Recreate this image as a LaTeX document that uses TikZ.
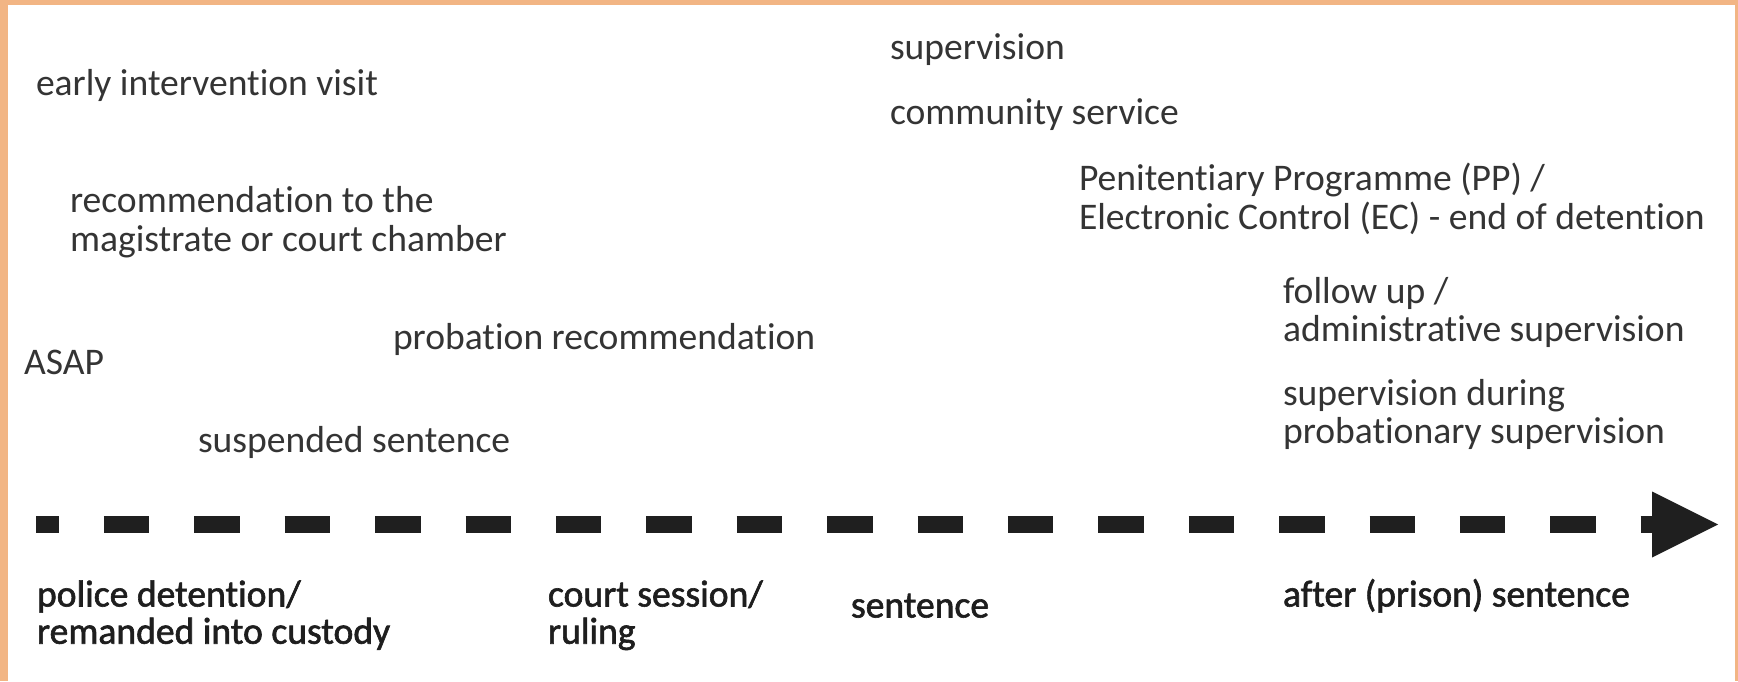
\documentclass[tikz,border=0pt]{standalone}
\usepackage{fontspec}
\setmainfont[Ligatures={NoCommon}]{Carlito}
\newfontfamily\stagefont[Ligatures={NoCommon},FakeBold=1.6]{Carlito}
\usetikzlibrary{positioning}
\definecolor{frame}{RGB}{242,181,132}
\definecolor{txt}{RGB}{52,52,52}
\definecolor{txtb}{RGB}{30,30,30}
\newcommand{\twol}[2]{\begin{tabular}[t]{@{}l@{}}#1\\#2\end{tabular}}
\tikzset{
  lbl/.style={anchor=base west, inner sep=0pt, outer sep=0pt, text=txt,
    font=\fontsize{37.6pt}{38.5pt}\selectfont},
  stage/.style={anchor=base west, inner sep=0pt, outer sep=0pt, text=txtb,
    font=\stagefont\fontsize{37.6pt}{37pt}\selectfont},
  timeline/.style={line width=17pt, draw=black!88, dash pattern=on 45.5pt off 44.9pt, dash phase=22.5pt},
  tiphead/.style={fill=black!88}
}
\begin{document}
\begin{tikzpicture}[x=1pt,y=1pt]
\useasboundingbox (0,0) rectangle (1738,681);
\fill[frame] (0,0) rectangle (1738,681);
\fill[white] (8,0) rectangle (1735,676);
% timeline
\coordinate (tstart) at (36,156.5);
\coordinate (tbase) at (1652,156.5);
\coordinate (ttip) at (1718,156.5);
\coordinate (ttop) at (1652,189.5);
\coordinate (tbot) at (1652,123.5);
\draw[timeline] (tstart) -- (tbase);
\fill[tiphead] (ttop) -- (ttip) -- (tbot) -- cycle;
% upper labels
\node[lbl] (sup) at (890,621) {supervision};
\node[lbl] (comm) at (890,556) {community service};
\node[lbl] (early) at (36,585.5) {early intervention visit};
\node[lbl] (pp) at (1079,490.5) {\twol{Penitentiary Programme (PP) /}{Electronic Control (EC) - end of detention}};
\node[lbl] (rec) at (70,468) {\twol{recommendation to the}{magistrate or court chamber}};
\node[lbl] (follow) at (1283,377.5) {\twol{follow up /}{administrative supervision}};
\node[lbl] (prob) at (393,331.5) {probation recommendation};
\node[lbl] (asap) at (24,306.5) {ASAP};
\node[lbl] (supdur) at (1283,276) {\twol{supervision during}{probationary supervision}};
\node[lbl] (susp) at (198,228.5) {suspended sentence};
% stages
\node[stage] (police) at (37,74.5) {\twol{police detention/}{remanded into custody}};
\node[stage] (court) at (548,74.5) {\twol{court session/}{ruling}};
\node[stage] (sent) at (851,63.5) {sentence};
\node[stage] (after) at (1283,74.5) {after (prison) sentence};
\end{tikzpicture}
\end{document}
